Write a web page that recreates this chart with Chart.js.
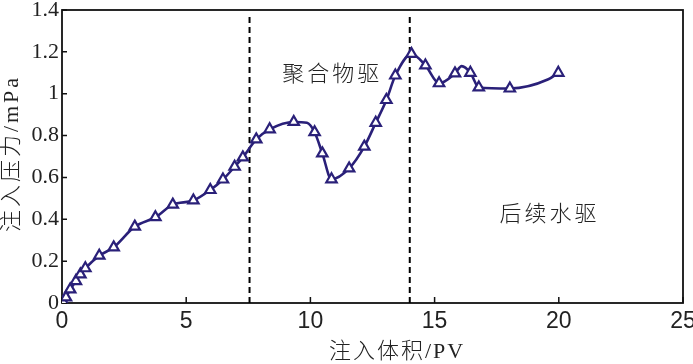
<!DOCTYPE html>
<html>
<head>
<meta charset="utf-8">
<script src="https://cdn.jsdelivr.net/npm/chart.js@4/dist/chart.umd.min.js"></script>
<style>
  html, body { margin: 0; padding: 0; background: #fff; }
  #chart { display: block; }
</style>
</head>
<body>
<canvas id="chart" width="693" height="364"></canvas>
<script>
// measured points (triangles)
const pvMeasured = [0.05, 0.16, 0.33, 0.56, 0.74, 0.94, 1.50, 2.08, 2.93, 3.76, 4.46, 5.29, 5.97, 6.48, 6.95, 7.28,
  7.82, 8.36, 9.33, 10.17, 10.48, 10.85, 11.56, 12.17, 12.63, 13.06, 13.42, 14.07, 14.63, 15.18, 15.82, 16.44,
  16.78, 18.03, 19.98];
const pressureMeasured = [0.005, 0.027, 0.065, 0.105, 0.137, 0.166, 0.226, 0.266, 0.365, 0.41, 0.47, 0.49, 0.54, 0.59, 0.651, 0.696,
  0.782, 0.83, 0.865, 0.816, 0.715, 0.591, 0.643, 0.747, 0.861, 0.97, 1.087, 1.19, 1.135, 1.05, 1.097, 1.10,
  1.03, 1.025, 1.10];

// extra points on the fitted curve (no marker)
const pvCurveExtra = [9.86, 16.09, 19.58];
const pressureCurveExtra = [0.861, 1.132, 1.069];

// stage boundaries
const stageBounds = [7.55, 14.0];
const stageLabels = ['聚合物驱', '后续水驱'];
const stageLabelPv = [10.82, 19.57];
const stageLabelP = [1.10, 0.43];

const xTicks = [0, 5, 10, 15, 20, 25];
const yTicks = [0, 0.2, 0.4, 0.6, 0.8, 1, 1.2, 1.4];

const lineColor = '#2a2079';
const cjk = '"Noto Sans CJK SC"';

const measured = pvMeasured.map((x, i) => ({ x: x, y: pressureMeasured[i] }));
const curve = measured
  .concat(pvCurveExtra.map((x, i) => ({ x: x, y: pressureCurveExtra[i] })))
  .sort((a, b) => a.x - b.x);

const dashed = stageBounds.map(x => ({
  data: [{ x: x, y: 0 }, { x: x, y: 1.385 }],
  borderColor: '#000',
  borderWidth: 2,
  borderDash: [6, 4],
  pointRadius: 0,
  fill: false
}));

// frame, inward ticks, titles and stage labels
const decor = {
  id: 'decor',
  beforeDatasetsDraw(chart) {
    const { ctx, chartArea: a, scales } = chart;
    ctx.save();
    ctx.strokeStyle = '#111';
    ctx.lineWidth = 1.8;
    ctx.strokeRect(a.left, a.top, a.right - a.left, a.bottom - a.top);
    ctx.lineWidth = 1.5;
    ctx.beginPath();
    yTicks.forEach(v => {
      const y = scales.y.getPixelForValue(v);
      ctx.moveTo(a.left, y);
      ctx.lineTo(a.left + 5, y);
    });
    xTicks.forEach(v => {
      const x = scales.x.getPixelForValue(v);
      ctx.moveTo(x, a.bottom);
      ctx.lineTo(x, a.bottom - 6);
    });
    ctx.stroke();
    ctx.restore();
  },
  afterDraw(chart) {
    const { ctx, chartArea: a, scales } = chart;
    ctx.save();
    ctx.fillStyle = '#222';
    ctx.textAlign = 'center';
    ctx.textBaseline = 'middle';

    ctx.font = '300 22px ' + cjk;
    ctx.letterSpacing = '3px';
    stageLabels.forEach((t, i) => {
      ctx.fillText(t, scales.x.getPixelForValue(stageLabelPv[i]) + 1.5, scales.y.getPixelForValue(stageLabelP[i]));
    });

    ctx.font = '300 22px "Liberation Serif", ' + cjk;
    ctx.letterSpacing = '2px';
    ctx.fillText('注入体积/PV', 397, 352);

    ctx.translate(12, (a.top + a.bottom) / 2 - 3);
    ctx.rotate(-Math.PI / 2);
    ctx.letterSpacing = '3px';
    ctx.fillText('注入压力/mPa', 0, 0);
    ctx.restore();
  }
};

new Chart(document.getElementById('chart'), {
  type: 'line',
  data: {
    datasets: [
      {
        data: measured,
        showLine: false,
        pointStyle: 'triangle',
        pointRadius: 6,
        pointHoverRadius: 6,
        pointBorderWidth: 2.2,
        pointBackgroundColor: '#fff',
        pointBorderColor: lineColor
      },
      {
        data: curve,
        borderColor: lineColor,
        borderWidth: 2.6,
        pointRadius: 0,
        cubicInterpolationMode: 'monotone',
        fill: false
      }
    ].concat(dashed)
  },
  options: {
    responsive: false,
    animation: false,
    events: [],
    layout: { padding: { top: 10, right: 10, left: 0, bottom: 0 } },
    plugins: {
      legend: { display: false },
      tooltip: { enabled: false }
    },
    scales: {
      x: {
        type: 'linear',
        min: 0,
        max: 25,
        afterBuildTicks: s => { s.ticks = xTicks.map(v => ({ value: v })); },
        afterFit: s => { s.height = 61; s.paddingLeft = 0; s.paddingRight = 0; },
        grid: { display: false, drawTicks: false },
        border: { display: false },
        ticks: {
          padding: 7,
          color: '#222',
          font: { family: '"Liberation Sans"', size: 23, lineHeight: 1 },
          maxRotation: 0,
          callback: v => String(v)
        }
      },
      y: {
        min: 0,
        max: 1.4,
        afterBuildTicks: s => { s.ticks = yTicks.map(v => ({ value: v })); },
        afterFit: s => { s.width = 62; s.paddingTop = 0; s.paddingBottom = 0; },
        grid: { display: false, drawTicks: false },
        border: { display: false },
        ticks: {
          padding: 3,
          color: '#222',
          font: { family: '"Liberation Serif"', size: 22, lineHeight: 1 },
          callback: v => String(Math.round(v * 10) / 10)
        }
      }
    }
  },
  plugins: [decor]
});
</script>
</body>
</html>
